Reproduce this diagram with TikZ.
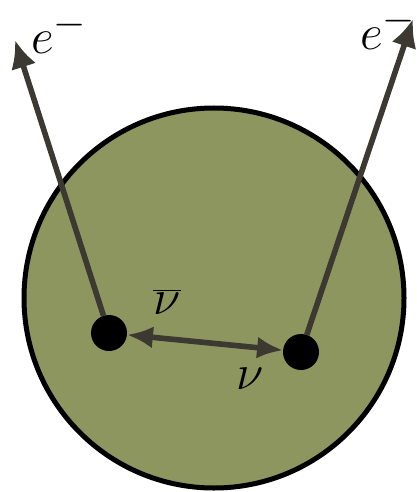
\documentclass[tikz,border=0pt]{standalone}
\usepackage{tikz}
\usetikzlibrary{arrows.meta, positioning}

\definecolor{nucleus}{RGB}{141,150,94}
\definecolor{track}{RGB}{59,57,49}

\begin{document}
\begin{tikzpicture}[x=0.5pt, y=-0.5pt,
  every node/.style={font=\fontsize{29}{34}\selectfont},
  particle/.style={circle, fill=black, minimum size=18pt, inner sep=0pt, outer sep=0pt},
  arrow/.style={track, line width=2.8pt, -{Latex[length=14pt,width=13pt]}},
  swap/.style={track, line width=2.8pt, {Latex[length=13pt,width=11pt]}-{Latex[length=13pt,width=11pt]}}]

\useasboundingbox (0,0) rectangle (417,492);

% nucleus
\draw[fill=nucleus, line width=2.5pt] (214,298) circle (190);

\node[particle] (left) at (109,333) {};
\node[particle] (right) at (301,352) {};

\coordinate (lend) at (15,40);
\coordinate (rend) at (413,19);

\draw[arrow] (left) -- (lend);
\draw[arrow] (right) -- (rend);
\draw[swap] (left) -- (right);

\node (eleft) at (59,32) {$e^-$};
\node (eright) at (388,28) {$e^-$};
\node (antinu) at (167,302) {$\overline{\nu}$};
\node (nu) at (250,379) {$\nu$};

\end{tikzpicture}
\end{document}
